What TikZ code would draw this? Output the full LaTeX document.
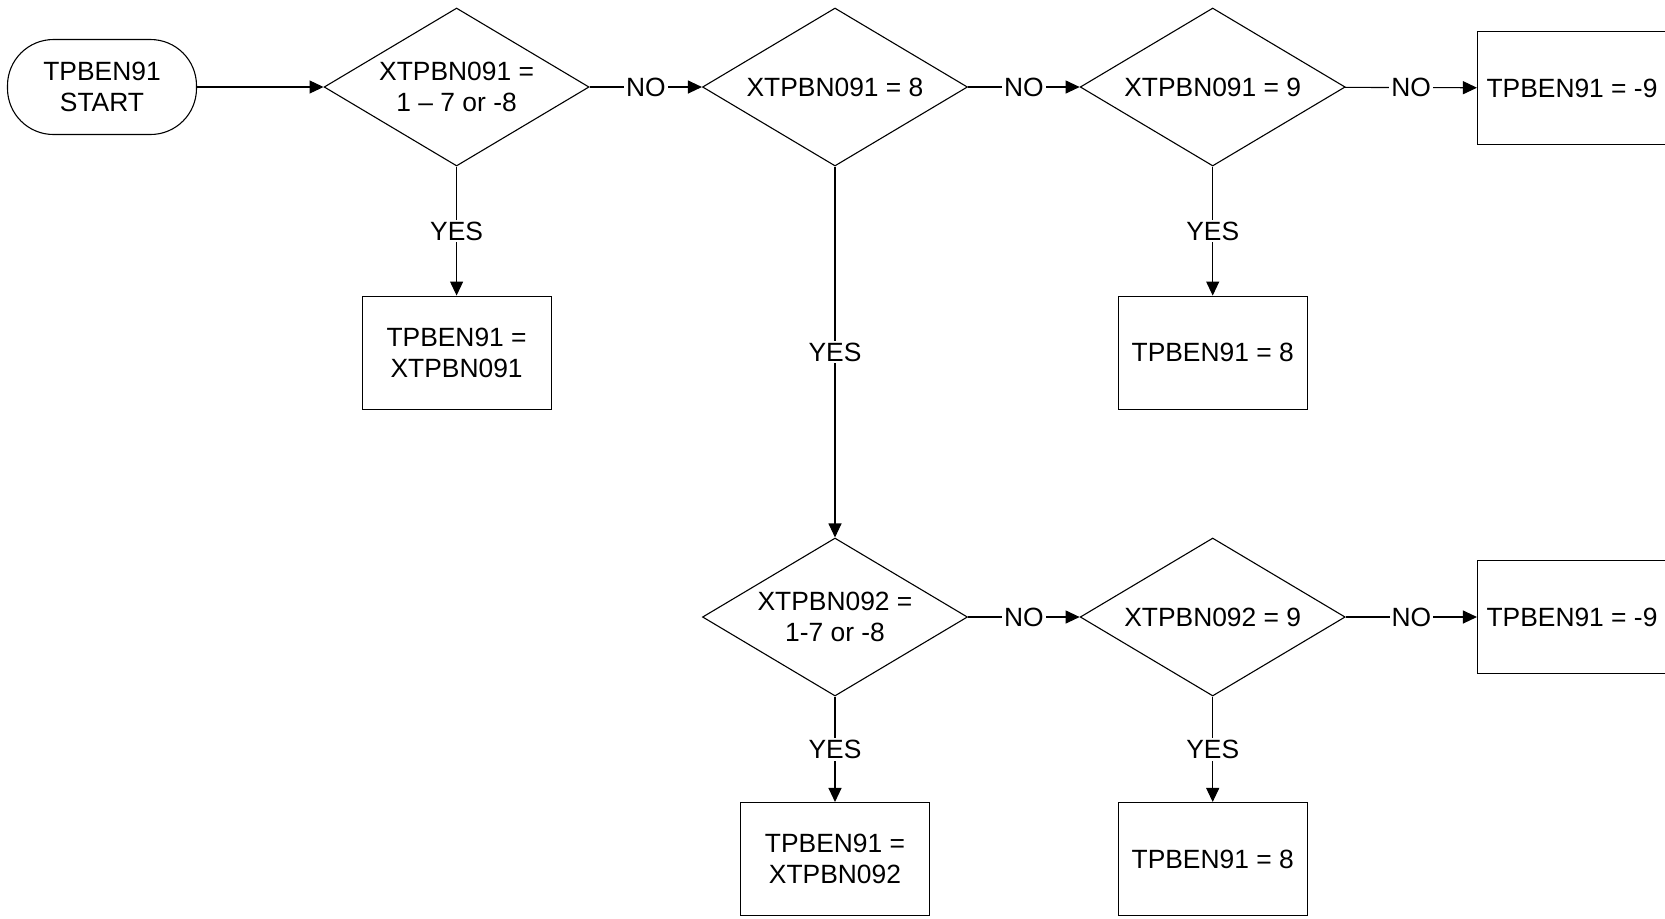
\documentclass[tikz,border=0pt]{standalone}
\usepackage{fontspec}
\setmainfont{Liberation Sans}
\usetikzlibrary{shapes.geometric, arrows.meta}

\tikzset{
  decision/.style={diamond, draw, aspect=1.68, inner sep=0pt,
    minimum width=132.5pt, minimum height=79pt, align=center},
  result/.style={rectangle, draw, minimum width=94.5pt,
    minimum height=56.5pt, align=center},
  terminal/.style={rectangle, draw, rounded corners=23pt,
    minimum width=94.5pt, minimum height=47.5pt, align=center},
  flow/.style={-{Triangle[length=7pt,width=6.5pt]}},
  answer/.style={fill=white, inner sep=1pt}
}

\begin{document}
\begin{tikzpicture}[x=0.5pt, y=-0.5pt, line width=0.55pt,
    every node/.style={font=\fontsize{13.2pt}{15.5pt}\selectfont}]
                \clip (0,0) rectangle (1665,918);
                \fill[white] (0,0) rectangle (1665,918);
                % top row
                \node[terminal] (S) at (102,87) {TPBEN91\\START};
                \node[decision] (D1) at (456.6,87) {XTPBN091 =\\1 -- 7 or -8};
                \node[decision] (D2) at (835,87) {XTPBN091 = 8};
                \node[decision] (D3) at (1212.7,87) {XTPBN091 = 9};
                \node[result] (R1) at (1572,88) {TPBEN91 = -9};
                \node[result] (B1) at (456.6,352.6) {TPBEN91 =\\XTPBN091};
                \node[result] (B3) at (1212.7,352.6) {TPBEN91 = 8};
                % bottom row
                \node[decision] (D4) at (835,617) {XTPBN092 =\\1-7 or -8};
                \node[decision] (D5) at (1212.7,617) {XTPBN092 = 9};
                \node[result] (R2) at (1572,617) {TPBEN91 = -9};
                \node[result] (B4) at (835,859) {TPBEN91 =\\XTPBN092};
                \node[result] (B5) at (1212.7,859) {TPBEN91 = 8};
                % connectors
                \draw[flow] (S) -- (D1);
                \draw[flow] (D1) -- node[answer] {NO} (D2);
                \draw[flow] (D2) -- node[answer] {NO} (D3);
                \draw[flow] (D3) -- node[answer] {NO} (R1);
                \draw[flow] (D1.south) -- node[answer] {YES} (B1.north);
                \draw[flow] (D2.south) -- node[answer] {YES} (D4.north);
                \draw[flow] (D3.south) -- node[answer] {YES} (B3.north);
                \draw[flow] (D4) -- node[answer] {NO} (D5);
                \draw[flow] (D5) -- node[answer] {NO} (R2);
                \draw[flow] (D4.south) -- node[answer] {YES} (B4.north);
                \draw[flow] (D5.south) -- node[answer] {YES} (B5.north);
\end{tikzpicture}
\end{document}
